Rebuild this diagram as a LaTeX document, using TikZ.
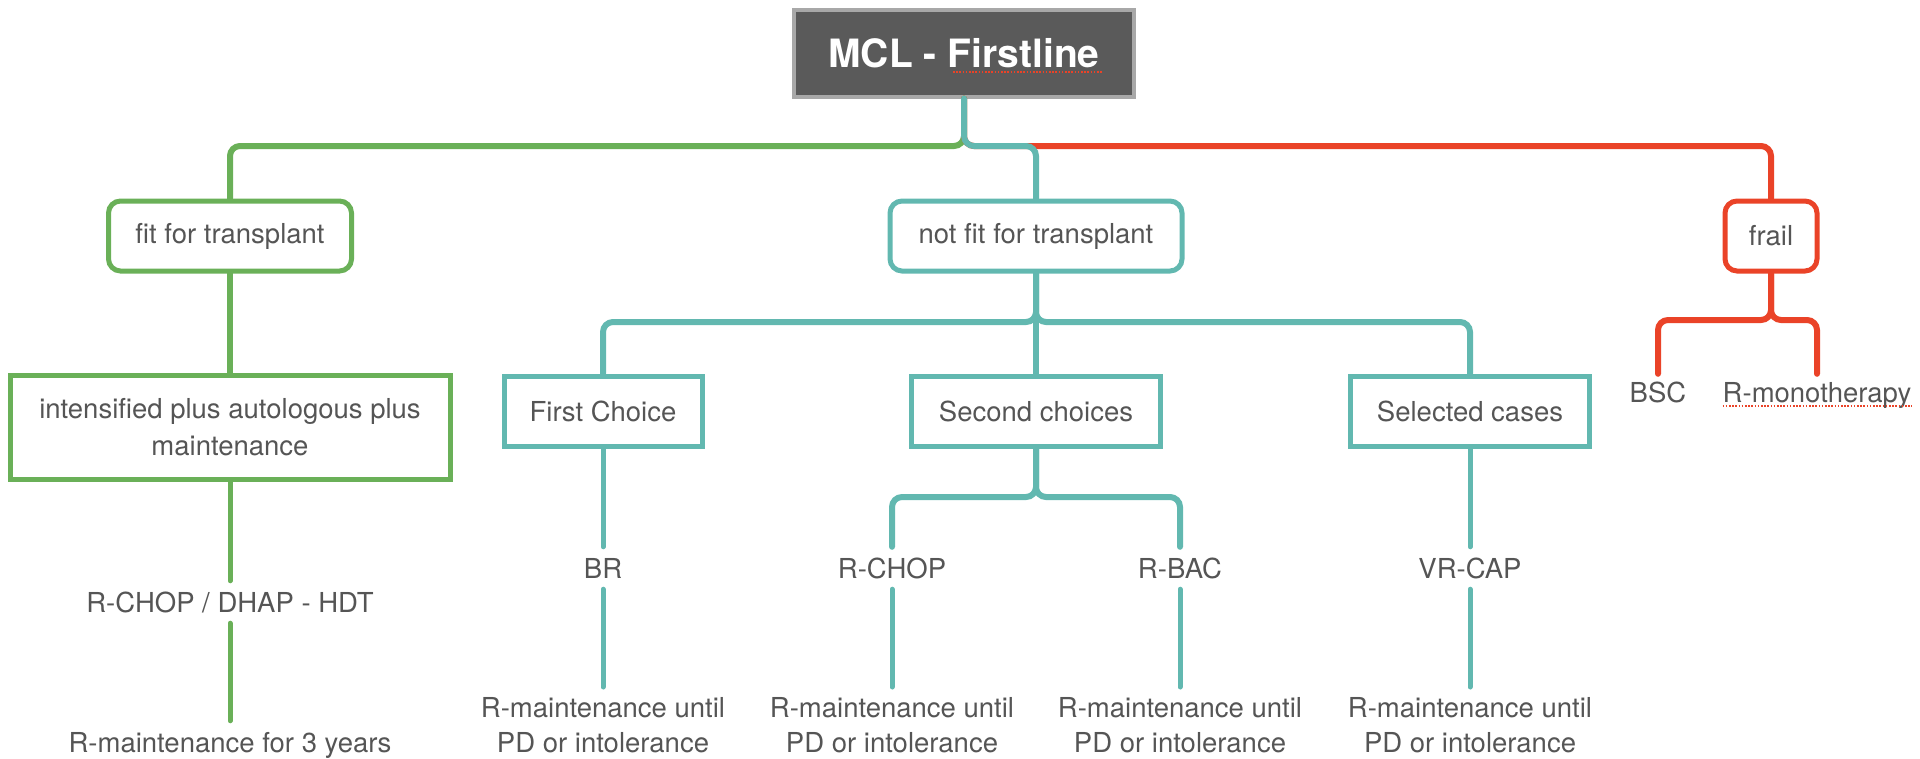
\documentclass[tikz,border=0pt]{standalone}
\usepackage{fontspec}
\setmainfont{TeX Gyre Heros}
\definecolor{cgreen}{RGB}{106,176,88}
\definecolor{cteal}{RGB}{98,184,176}
\definecolor{cred}{RGB}{234,67,40}
\definecolor{txt}{RGB}{85,85,85}
\definecolor{titlefill}{RGB}{90,90,90}
\definecolor{titleborder}{RGB}{168,168,168}
\begin{document}
\begin{tikzpicture}[x=1pt,y=-1pt,
  every node/.style={inner sep=0pt, text=txt, font=\fontsize{27.5}{35}\selectfont, align=center},
  rbox/.style={draw, line width=5pt, rounded corners=12pt, minimum height=70pt},
  sbox/.style={draw, line width=5pt, minimum height=70pt},
  lab/.style={text height=20pt, text depth=0pt, inner ysep=11pt, anchor=base},
  maint/.style={anchor=north, inner ysep=10pt},
  conn/.style={line width=6pt, rounded corners=10pt, line cap=round},
  leg/.style={line width=5pt, line cap=round},
  squiggle/.style={cred, line width=1.6pt, dash pattern=on 1.6pt off 1.6pt},
]
\useasboundingbox (0,0) rectangle (1920,758);

% title
\node[fill=titlefill, draw=titleborder, line width=4pt, minimum width=340pt, minimum height=87pt,
      text=white, font=\fontsize{39}{45}\selectfont\bfseries] (title) at (964,53) {MCL - Firstline};

% level 1
\node[rbox, draw=cgreen, minimum width=243pt] (fit) at (230,236) {fit for transplant};
\node[rbox, draw=cteal, minimum width=292pt] (notfit) at (1036,236) {not fit for transplant};
\node[rbox, draw=cred, minimum width=92pt] (frail) at (1771,236) {frail};

% level 2
\node[sbox, draw=cgreen, minimum width=440pt, minimum height=104pt,
      font=\fontsize{27.5}{37}\selectfont] (intens) at (230,427)
  {intensified plus autologous plus\\maintenance};
\node[sbox, draw=cteal, minimum width=198pt] (first) at (603,411) {First Choice};
\node[sbox, draw=cteal, minimum width=249pt] (second) at (1036,411) {Second choices};
\node[sbox, draw=cteal, minimum width=239pt] (selected) at (1470,411) {Selected cases};

\node[lab, inner ysep=8pt] (bsc) at (1658,402) {BSC};
\node[lab, inner ysep=8pt] (rmono) at (1817,402) {R-monotherapy};

% regimens
\node[lab] (hdt) at (230,612) {R-CHOP / DHAP - HDT};
\node[lab] (br) at (603,578) {BR};
\node[lab] (rchop) at (892,578) {R-CHOP};
\node[lab] (rbac) at (1180,578) {R-BAC};
\node[lab] (vrcap) at (1470,578) {VR-CAP};

% maintenance
\node[lab, text depth=6pt] (m3) at (230,752) {R-maintenance for 3 years};
\node[maint] (mbr) at (603,687) {R-maintenance until\\PD or intolerance};
\node[maint] (mrchop) at (892,687) {R-maintenance until\\PD or intolerance};
\node[maint] (mrbac) at (1180,687) {R-maintenance until\\PD or intolerance};
\node[maint] (mvrcap) at (1470,687) {R-maintenance until\\PD or intolerance};

% junctions
\coordinate (jtop) at (964,146);
\coordinate (jnf) at (1036,322);
\coordinate (jsc) at (1036,497);
\coordinate (jfr) at (1771,320);

% trunk
\draw[conn, cgreen] (title.south) -- (jtop) -| (fit.north);
\draw[conn, cred] (title.south) -- (jtop) -| (frail.north);
\draw[conn, cteal] (title.south) -- (jtop) -| (notfit.north);

% green branch
\draw[conn, cgreen] (fit.south) -- (intens.north);
\draw[leg, cgreen] (intens.south) -- (hdt.north);
\draw[leg, cgreen] (hdt.south) -- (m3.north);

% teal branch
\draw[conn, cteal] (notfit.south) -- (jnf) -| (first.north);
\draw[conn, cteal] (notfit.south) -- (jnf) -| (selected.north);
\draw[conn, cteal] (notfit.south) -- (second.north);
\draw[conn, cteal] (second.south) -- (jsc) -| (rchop.north);
\draw[conn, cteal] (second.south) -- (jsc) -| (rbac.north);
\draw[leg, cteal] (first.south) -- (br.north);
\draw[leg, cteal] (selected.south) -- (vrcap.north);
\draw[leg, cteal] (br.south) -- (mbr.north);
\draw[leg, cteal] (rchop.south) -- (mrchop.north);
\draw[leg, cteal] (rbac.south) -- (mrbac.north);
\draw[leg, cteal] (vrcap.south) -- (mvrcap.north);

% red branch
\draw[conn, cred] (frail.south) -- (jfr) -| (bsc.north);
\draw[conn, cred] (frail.south) -- (jfr) -| (rmono.north);

% spell-check underlines
\draw[squiggle] (953,72) -- (1103,72);
\draw[squiggle] ([yshift=-4pt]rmono.base west) -- ([yshift=-4pt]rmono.base east);
\end{tikzpicture}
\end{document}
